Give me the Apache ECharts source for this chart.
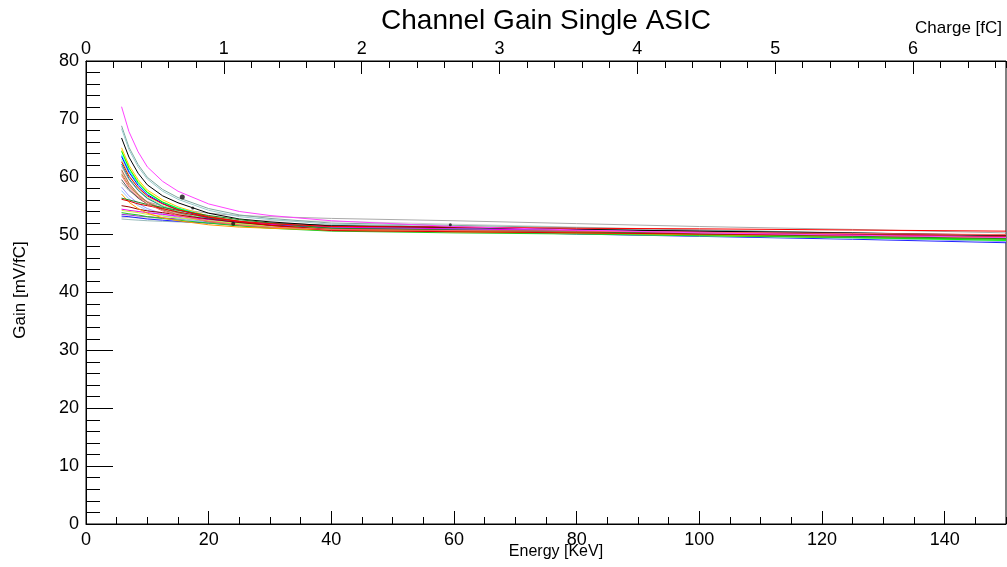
<!DOCTYPE html>
<html>
<head>
<meta charset="utf-8">
<script src="https://cdn.jsdelivr.net/npm/echarts@6/dist/echarts.min.js"></script>
<style>html,body{margin:0;padding:0;background:#fff;}#c{width:1007px;height:567px;}</style>
</head>
<body>
<div id="c"></div>
<script>
// Energy sample points (keV)
const energies = [5.8, 7, 8.5, 10, 12.5, 15, 20, 25, 30, 40, 60, 80, 100, 125, 150];
// Gain per channel (mV/fC)
const ch01 = [72.1,67.8,64.3,61.7,59.2,57.5,55.3,54.0,53.3,52.4,51.4,50.8,50.3,49.9,49.5];
const ch02 = [68.8,65.1,62.1,59.9,57.8,56.4,54.5,53.4,52.8,52.0,51.6,51.2,50.8,50.3,49.8];
const ch03 = [68.3,64.7,61.7,59.6,57.5,56.1,54.2,53.1,52.6,51.8,51.4,50.9,50.5,50.0,49.4];
const ch04 = [66.7,63.4,60.6,58.6,56.7,55.5,53.7,52.7,52.2,51.5,51.2,50.9,50.6,50.3,49.9];
const ch05 = [65.0,62.0,59.5,57.7,56.0,54.8,53.2,52.3,51.8,51.2,50.9,50.6,50.3,50.0,49.6];
const ch06 = [64.6,61.6,59.2,57.4,55.7,54.5,53.0,52.1,51.6,51.0,50.7,50.4,50.0,49.6,49.2];
const ch07 = [64.4,61.5,59.0,57.3,55.6,54.5,53.0,52.1,51.6,51.0,50.6,50.3,49.9,49.5,49.0];
const ch08 = [63.8,61.1,58.8,57.2,55.6,54.6,53.1,52.3,51.9,51.3,51.0,50.7,50.3,49.9,49.5];
const ch09 = [63.5,60.8,58.5,56.9,55.4,54.3,52.9,52.1,51.7,51.1,50.8,50.5,50.1,49.7,49.3];
const ch10 = [63.0,60.3,58.1,56.5,55.0,54.0,52.6,51.8,51.4,50.8,50.5,50.2,49.8,49.4,49.0];
const ch11 = [62.6,60.1,58.1,56.7,55.3,54.3,53.1,52.3,51.9,51.4,51.3,51.1,51.0,50.8,50.6];
const ch12 = [61.8,59.5,57.6,56.2,54.9,54.0,52.8,52.1,51.7,51.2,50.9,50.7,50.4,50.1,49.8];
const ch13 = [60.9,58.7,56.9,55.7,54.4,53.6,52.5,51.8,51.5,51.0,50.7,50.4,50.1,49.8,49.4];
const ch14 = [60.2,58.2,56.5,55.3,54.1,53.3,52.3,51.7,51.3,50.9,50.7,50.6,50.4,50.2,50.0];
const ch15 = [59.5,57.8,56.3,55.3,54.3,53.7,52.8,52.2,52.0,51.6,51.3,50.9,50.6,50.1,49.7];
const ch16 = [58.2,56.7,55.4,54.5,53.6,53.0,52.2,51.8,51.5,51.2,50.8,50.3,49.9,49.4,48.8];
const ch17 = [56.3,56.0,55.6,55.2,54.7,54.2,53.3,52.6,52.0,51.1,50.8,50.5,50.1,49.7,49.3];
const ch18 = [56.1,55.8,55.3,55.0,54.5,53.9,53.0,52.3,51.6,50.7,50.5,50.3,50.1,49.9,49.6];
const ch19 = [54.4,54.2,54.0,53.8,53.5,53.2,52.6,52.2,51.8,51.3,51.0,50.7,50.4,50.0,49.6];
const ch20 = [54.2,54.0,53.8,53.5,53.2,52.9,52.4,51.9,51.5,51.0,50.7,50.4,50.1,49.7,49.3];
const ch21 = [53.8,53.6,53.4,53.1,52.8,52.5,52.0,51.5,51.1,50.6,50.3,50.1,49.8,49.5,49.2];
const ch22 = [53.2,53.1,52.9,52.7,52.5,52.3,52.0,51.6,51.4,51.0,50.6,50.1,49.7,49.2,48.6];
const ch23 = [59.0,57.6,56.5,55.7,54.9,54.4,53.7,53.3,53.1,52.8,52.4,51.9,51.4,50.9,50.3];
const ch24 = [52.7,52.6,52.5,52.4,52.3,52.2,52.0,51.8,51.7,51.5,51.0,50.6,50.1,49.5,48.9];
const ch25 = [53.0,53.0,52.9,52.9,52.8,52.7,52.6,52.5,52.4,52.3,51.8,51.3,50.8,50.2,49.6];
const ch26 = [53.5,53.4,53.2,53.1,52.9,52.7,52.3,52.0,51.8,51.4,51.0,50.5,50.1,49.6,49.0];
const ch27 = [55.0,54.8,54.4,54.1,53.8,53.4,52.7,52.1,51.6,50.9,50.7,50.5,50.4,50.1,49.9];
const ch28 = [57.0,55.6,54.5,53.7,52.9,52.4,51.7,51.3,51.1,50.8,50.5,50.3,50.0,49.7,49.4];
const ch29 = [57.6,56.2,55.0,54.2,53.3,52.8,52.1,51.6,51.4,51.1,50.7,50.3,49.9,49.4,48.9];
const ch30 = [61.2,58.9,57.0,55.6,54.3,53.4,52.2,51.6,51.2,50.7,50.5,50.3,50.0,49.8,49.5];
const ch31 = [62.2,59.7,57.7,56.3,54.9,53.9,52.7,51.9,51.5,51.0,50.8,50.6,50.3,50.1,49.8];
const ch32 = [60.5,58.5,56.8,55.6,54.5,53.7,52.7,52.1,51.7,51.3,50.9,50.5,50.2,49.7,49.2];
const channels = [ch23,ch25,ch24,ch02,ch03,ch15,ch26,ch22,ch29,ch16,ch32,ch13,ch12,ch30,ch31,ch10,ch06,ch05,ch08,ch09,ch07,ch04,ch19,ch20,ch21,ch27,ch28,ch17,ch18,ch14,ch11,ch01];
const colors = ['#aaaaaa','#cccccc','#99bbbb','#7fa8a0','#99cccc','#555555','#9933cc','#2222ff','#99ccff','#9999ff','#999933','#ff9999','#cc9999','#aa7744','#009999','#99ff99','#eeee44','#ffcc00','#00ffff','#0000ff','#00ff00','#000000','#ee00ee','#ccee44','#22cc22','#990000','#ff9900','#228822','#dd0000','#ff6666','#ff0000','#ff44ff'];
// Measured calibration points [energy keV, gain mV/fC]
const points = [[15.7,56.5],[17.4,54.6],[24.0,51.9],[59.4,51.7]];
// Axis ranges
const energyMax = 150;
const chargeMax = 6.675;

const FONT = '"Liberation Sans", Arial, Helvetica, sans-serif';
const chart = echarts.init(document.getElementById('c'), null, {renderer: 'canvas'});

const series = channels.map((vals, i) => ({
  type: 'line',
  xAxisIndex: 0, yAxisIndex: 0,
  data: energies.map((e, k) => [e, vals[k]]),
  smooth: false,
  symbol: 'none',
  lineStyle: {width: 1, color: colors[i]},
  itemStyle: {color: colors[i]},
  z: 2
}));
series.push({
  type: 'scatter', xAxisIndex: 0, yAxisIndex: 0,
  data: points,
  symbolSize: (v, p) => [5, 3, 4, 3][p.dataIndex],
  itemStyle: {color: '#111111'},
  z: 5
});

const axisTextStyle = {color: '#000', fontSize: 18, fontFamily: FONT};
chart.setOption({
  animation: false,
  backgroundColor: '#fff',
  grid: {left: 86, right: 1, top: 61, bottom: 43, show: true, borderColor: '#000', borderWidth: 1, containLabel: false},
  xAxis: [
    {type: 'value', position: 'bottom', min: 0, max: energyMax, interval: 20,
     axisLine: {show: true, lineStyle: {color: '#000', width: 1}},
     axisTick: {show: true, inside: true, length: 13, lineStyle: {color: '#000'}},
     minorTick: {show: false}, splitLine: {show: false},
     axisLabel: Object.assign({margin: 7, showMaxLabel: false}, axisTextStyle)},
    {type: 'value', position: 'bottom', min: 0, max: energyMax, interval: 5,
     axisLine: {show: false},
     axisTick: {show: true, inside: true, length: 7, lineStyle: {color: '#000'}},
     splitLine: {show: false}, axisLabel: {show: false}},
    {type: 'value', position: 'top', min: 0, max: chargeMax, interval: 1,
     axisLine: {show: true, lineStyle: {color: '#000', width: 1}},
     axisTick: {show: true, inside: true, length: 13, lineStyle: {color: '#000'}},
     splitLine: {show: false},
     axisLabel: Object.assign({margin: 3, showMaxLabel: false}, axisTextStyle)},
    {type: 'value', position: 'top', min: 0, max: chargeMax, interval: 0.2,
     axisLine: {show: false},
     axisTick: {show: true, inside: true, length: 7, lineStyle: {color: '#000'}},
     splitLine: {show: false}, axisLabel: {show: false}}
  ],
  yAxis: [
    {type: 'value', position: 'left', min: 0, max: 80, interval: 10,
     axisLine: {show: true, lineStyle: {color: '#000', width: 1}},
     axisTick: {show: true, inside: true, length: 27, lineStyle: {color: '#000'}},
     minorTick: {show: true, splitNumber: 5, length: 14, lineStyle: {color: '#000'}},
     splitLine: {show: false},
     axisLabel: Object.assign({margin: 7}, axisTextStyle)}
  ],
  graphic: [
    {type: 'text', x: 546, y: 21, style: {text: 'Channel Gain Single ASIC', font: '28px ' + FONT, fill: '#000', align: 'center', verticalAlign: 'middle', textAlign: 'center', textVerticalAlign: 'middle'}},
    {type: 'text', x: 1002, y: 28, style: {text: 'Charge [fC]', font: '17px ' + FONT, fill: '#000', align: 'right', verticalAlign: 'middle', textAlign: 'right', textVerticalAlign: 'middle'}},
    {type: 'text', x: 556, y: 552, style: {text: 'Energy [KeV]', font: '16px ' + FONT, fill: '#000', align: 'center', verticalAlign: 'middle', textAlign: 'center', textVerticalAlign: 'middle'}},
    {type: 'text', x: 20, y: 290, rotation: Math.PI / 2, style: {text: 'Gain [mV/fC]', font: '17px ' + FONT, fill: '#000', align: 'center', verticalAlign: 'middle', textAlign: 'center', textVerticalAlign: 'middle'}}
  ],
  series: series
});
</script>
</body>
</html>
